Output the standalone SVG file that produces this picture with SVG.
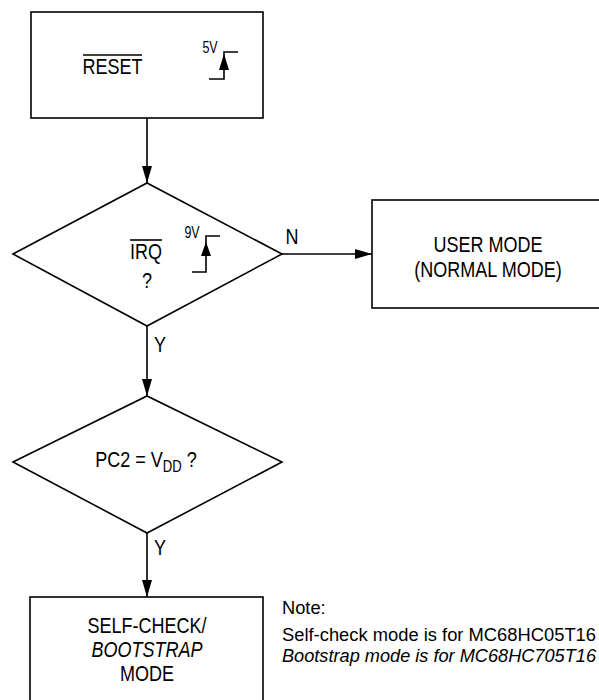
<svg xmlns="http://www.w3.org/2000/svg" width="599" height="700" viewBox="0 0 599 700">
<style>
.s{fill:none;stroke:#000;stroke-width:1.6}
.t{font-family:"Liberation Sans",Arial,sans-serif;font-size:22px;fill:#000}
.n{font-family:"Liberation Sans",Arial,sans-serif;font-size:18.3px;fill:#000}
.sm{font-family:"Liberation Sans",Arial,sans-serif;font-size:16px;fill:#000}
.i{font-style:italic}
.c{stroke:#000;stroke-width:1.6;fill:none}
</style>
<defs>
<marker id="ah" markerUnits="userSpaceOnUse" markerWidth="18" markerHeight="11" refX="17" refY="5" orient="auto">
<path d="M0,0 L17,5 L0,10 z" fill="#000"/>
</marker>
</defs>
<rect width="599" height="700" fill="#fff"/>
<g id="connectors">
<line class="c" x1="147" y1="118" x2="147" y2="183" marker-end="url(#ah)"/>
<line class="c" x1="147" y1="326" x2="147" y2="396" marker-end="url(#ah)"/>
<line class="c" x1="147" y1="533" x2="147" y2="597" marker-end="url(#ah)"/>
<line class="c" x1="282" y1="254" x2="372" y2="254" marker-end="url(#ah)"/>
<text class="t" transform="translate(292,244) scale(0.82,1)" text-anchor="middle">N</text>
<text class="t" transform="translate(160,352) scale(0.82,1)" text-anchor="middle">Y</text>
<text class="t" transform="translate(160,555) scale(0.82,1)" text-anchor="middle">Y</text>
</g>
<g id="reset">
<rect class="s" x="31" y="12" width="232" height="106"/>
<text class="t" transform="translate(112.5,74) scale(0.82,1)" text-anchor="middle">RESET</text>
<line class="c" x1="83" y1="55" x2="142" y2="55" stroke-width="1.2"/>
<text class="sm" transform="translate(210,53) scale(0.78,1)" text-anchor="middle">5V</text>
<path class="c" d="M238,52 H224 V79 H209"/>
<path d="M224,54 L219,70 L229,70 z" fill="#000"/>
</g>
<g id="irq">
<polygon class="s" points="13,254 147,183 282,254 147,326"/>
<text class="t" transform="translate(146,259) scale(0.82,1)" text-anchor="middle">IRQ</text>
<line class="c" x1="130" y1="240" x2="162" y2="240" stroke-width="1.2"/>
<text class="t" transform="translate(147,288) scale(0.82,1)" text-anchor="middle">?</text>
<text class="sm" transform="translate(192,238) scale(0.78,1)" text-anchor="middle">9V</text>
<path class="c" d="M220,236 H206 V272 H192"/>
<path d="M206,242 L201,256 L211,256 z" fill="#000"/>
</g>
<g id="user">
<rect class="s" x="372" y="200" width="240" height="108"/>
<text class="t" transform="translate(488,252) scale(0.82,1)" text-anchor="middle">USER MODE</text>
<text class="t" transform="translate(488,277) scale(0.82,1)" text-anchor="middle">(NORMAL MODE)</text>
</g>
<g id="pc2">
<polygon class="s" points="13,462 147,396 282,462 147,533"/>
<text class="t" transform="translate(146,467) scale(0.82,1)" text-anchor="middle">PC2 = V<tspan font-size="16" dy="5">DD</tspan><tspan dy="-5"> ?</tspan></text>
</g>
<g id="selfcheck">
<rect class="s" x="30" y="597" width="233" height="120"/>
<text class="t" transform="translate(147,633) scale(0.82,1)" text-anchor="middle">SELF-CHECK/</text>
<text class="t i" transform="translate(147,657) scale(0.82,1)" text-anchor="middle">BOOTSTRAP</text>
<text class="t" transform="translate(147,681) scale(0.82,1)" text-anchor="middle">MODE</text>
</g>
<g id="note">
<text class="n" x="282" y="614">Note:</text>
<text class="n" x="282" y="641" textLength="314" lengthAdjust="spacingAndGlyphs">Self-check mode is for MC68HC05T16</text>
<text class="n i" x="282" y="662" textLength="314" lengthAdjust="spacingAndGlyphs">Bootstrap mode is for MC68HC705T16</text>
</g>
</svg>
